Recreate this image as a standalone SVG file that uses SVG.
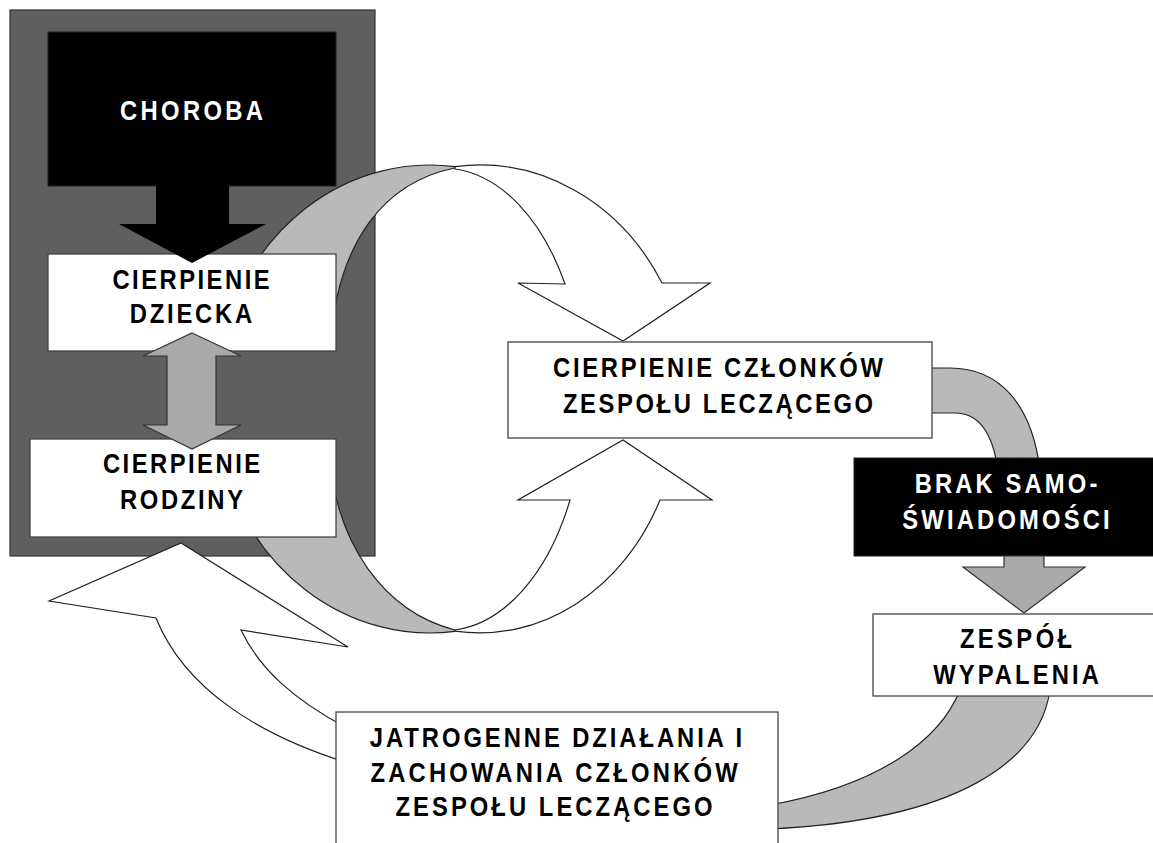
<svg xmlns="http://www.w3.org/2000/svg" width="1153" height="843" viewBox="0 0 1153 843">
<style>
  .bg { fill: #ffffff; }
  .frame { fill: #5f5f5f; stroke: #333333; stroke-width: 1.2; }
  .box { fill: #ffffff; stroke: #444444; stroke-width: 1.3; }
  .dark { fill: #000000; stroke: #222222; stroke-width: 1; }
  .band { fill: #b9b9b9; stroke: #222222; stroke-width: 1.2; stroke-linejoin: round; }
  .warrow { fill: #ffffff; stroke: #222222; stroke-width: 1.2; stroke-linejoin: miter; }
  .garrow { fill: #a9a9a9; stroke: #333333; stroke-width: 1.2; }
  .barrow { fill: #000000; stroke: none; }
  text { font-family: "Liberation Sans", Arial, Helvetica, sans-serif; font-weight: bold; font-size: 28px; text-anchor: middle; }
  .tb { fill: #000000; }
  .tw { fill: #ffffff; }
</style>
<rect class="bg" x="0" y="0" width="1153" height="843"/>

<g id="frame">
  <rect class="frame" x="10" y="10" width="365" height="546"/>
</g>

<g id="connectors">
  <path class="band" d="M 455,166.6 A 215 235 0 0 0 221,345 L 330,345 C 338,240 385,182 455,168 Z"/>
  <path class="band" d="M 455,631.4 A 215 233 0 0 1 220,450 L 329,450 C 335,545 385,612 455,630 Z"/>
  <path class="warrow" d="M 455,166.7 A 210 235 0 0 1 662,283 L 710,283 L 623,341 L 518,283 L 565,284 A 141 232 0 0 0 455,169 Z"/>
  <path class="warrow" d="M 455,631.2 A 200 233 0 0 0 660,500 L 712,500 L 623,440 L 518,500 L 570,500 A 141 232 0 0 1 455,630 Z"/>
  <path class="band" d="M 925,368 L 950,368 C 1000,368 1032,405 1040,470 L 998,470 C 993,435 980,413 955,413 L 925,413 Z"/>
  <path class="band" d="M 960,690 L 1050,690 C 1040,760 960,820 770,829 L 770,805 C 880,785 940,740 960,690 Z"/>
  <path class="warrow" d="M 181,543 L 348,647 L 241,630 C 260,670 295,700 345,727 L 345,762 C 260,735 185,690 156,618 L 49,601 Z"/>
</g>

<g id="node-choroba">
  <rect class="dark" x="48" y="32" width="288" height="154"/>
  <text class="tw" transform="translate(191.5 120) scale(0.85 1)" x="0" y="0" textLength="168" lengthAdjust="spacing">CHOROBA</text>
</g>

<g id="node-dziecka">
  <rect class="box" x="48" y="254" width="288" height="97"/>
  <text class="tb" transform="translate(191 289) scale(0.85 1)" x="0" y="0" textLength="185" lengthAdjust="spacing">CIERPIENIE</text>
  <text class="tb" transform="translate(191 323) scale(0.85 1)" x="0" y="0" textLength="144" lengthAdjust="spacing">DZIECKA</text>
</g>

<g id="node-rodziny">
  <rect class="box" x="30" y="439" width="306" height="98"/>
  <text class="tb" transform="translate(181.5 473) scale(0.85 1)" x="0" y="0" textLength="185" lengthAdjust="spacing">CIERPIENIE</text>
  <text class="tb" transform="translate(181.5 509) scale(0.85 1)" x="0" y="0" textLength="145" lengthAdjust="spacing">RODZINY</text>
</g>

<g id="node-zespol-cierpienie">
  <rect class="box" x="508" y="342" width="424" height="96"/>
  <text class="tb" transform="translate(718 377) scale(0.85 1)" x="0" y="0" textLength="388" lengthAdjust="spacing">CIERPIENIE CZŁONKÓW</text>
  <text class="tb" transform="translate(718 413) scale(0.85 1)" x="0" y="0" textLength="365" lengthAdjust="spacing">ZESPOŁU LECZĄCEGO</text>
</g>

<g id="node-brak">
  <rect class="dark" x="854" y="458" width="310" height="98"/>
  <text class="tw" transform="translate(1006 493) scale(0.85 1)" x="0" y="0" textLength="215" lengthAdjust="spacing">BRAK SAMO-</text>
  <text class="tw" transform="translate(1006 529) scale(0.85 1)" x="0" y="0" textLength="244" lengthAdjust="spacing">ŚWIADOMOŚCI</text>
</g>

<g id="node-wypalenie">
  <rect class="box" x="873" y="614" width="300" height="82"/>
  <text class="tb" transform="translate(1016 648) scale(0.85 1)" x="0" y="0" textLength="132" lengthAdjust="spacing">ZESPÓŁ</text>
  <text class="tb" transform="translate(1016 684) scale(0.85 1)" x="0" y="0" textLength="195" lengthAdjust="spacing">WYPALENIA</text>
</g>

<g id="node-jatrogenne">
  <rect class="box" x="336" y="712" width="442" height="150"/>
  <text class="tb" transform="translate(556 747) scale(0.85 1)" x="0" y="0" textLength="438" lengthAdjust="spacing">JATROGENNE DZIAŁANIA I</text>
  <text class="tb" transform="translate(554 782) scale(0.85 1)" x="0" y="0" textLength="432" lengthAdjust="spacing">ZACHOWANIA CZŁONKÓW</text>
  <text class="tb" transform="translate(554 816) scale(0.85 1)" x="0" y="0" textLength="373" lengthAdjust="spacing">ZESPOŁU LECZĄCEGO</text>
</g>

<g id="connectors-front">
  <polygon class="barrow" points="156,185 229,185 229,224 266,224 192,263 119,224 156,224"/>
  <polygon class="garrow" points="192,333 241,356 216,356 216,425 241,425 192,449 143,425 167,425 167,356 143,356"/>
  <polygon class="garrow" points="1004,556 1044,556 1044,567 1085,567 1024,613 963,567 1004,567"/>
</g>
</svg>
